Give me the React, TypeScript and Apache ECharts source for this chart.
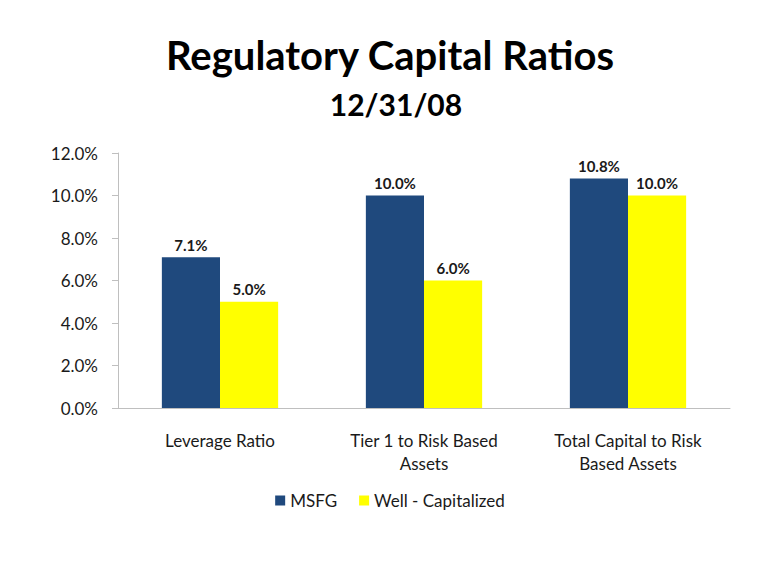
import React, { useEffect, useRef } from "react";
import * as echarts from "echarts";

const categories = ["Leverage Ratio", "Tier 1 to Risk Based\nAssets", "Total Capital to Risk\nBased Assets"];
const msfg = [7.1, 10.0, 10.8];
const wellCapitalized = [5.0, 6.0, 10.0];
const yTicks = { min: 0, max: 12, interval: 2 };

const FONT = "Lato, 'Noto Sans', sans-serif";

export default function App() {
  const ref = useRef<HTMLDivElement>(null);
  useEffect(() => {
    if (!ref.current) return;
    const chart = echarts.init(ref.current, null, { renderer: "svg" });
    const label = {
      show: true,
      position: "top",
      distance: 5,
      fontFamily: FONT,
      fontWeight: "bold",
      fontSize: 15,
      color: "#1a1a1a",
      formatter: (p: any) => p.value.toFixed(1) + "%",
    };
    chart.setOption({
      animation: false,
      backgroundColor: "#ffffff",
      title: [
        {
          text: "Regulatory Capital Ratios",
          left: "center",
          top: 30,
          textStyle: { fontFamily: FONT, fontWeight: "bold", fontSize: 40, color: "#000" },
        },
        {
          text: "12/31/08",
          left: 391,
          textAlign: "center",
          top: 84,
          textStyle: { fontFamily: FONT, fontWeight: "bold", fontSize: 30, color: "#000" },
        },
      ],
      legend: {
        bottom: 71,
        left: "center",
        itemWidth: 10,
        itemHeight: 10,
        itemGap: 22,
        icon: "rect",
        textStyle: { fontFamily: FONT, fontSize: 17, color: "#1a1a1a" },
        data: ["MSFG", "Well - Capitalized"],
      },
      grid: { left: 118, right: 50, top: 153, bottom: 177 },
      xAxis: {
        type: "category",
        data: categories,
        axisLine: { show: true, lineStyle: { color: "#BFBFBF" } },
        axisTick: { show: false },
        axisLabel: {
          margin: 21,
          fontFamily: FONT,
          fontSize: 17,
          lineHeight: 23,
          color: "#1a1a1a",
          interval: 0,
        },
      },
      yAxis: {
        type: "value",
        min: yTicks.min,
        max: yTicks.max,
        interval: yTicks.interval,
        axisLine: { show: true, lineStyle: { color: "#BFBFBF" } },
        axisTick: { show: true, length: 6, lineStyle: { color: "#BFBFBF" } },
        splitLine: { show: false },
        axisLabel: {
          margin: 20,
          fontFamily: FONT,
          fontSize: 17,
          color: "#1a1a1a",
          formatter: (v: number) => v.toFixed(1) + "%",
        },
      },
      series: [
        {
          name: "MSFG",
          type: "bar",
          data: msfg,
          barGap: "0%",
          barCategoryGap: "43%",
          itemStyle: { color: "#1F497D" },
          label,
        },
        {
          name: "Well - Capitalized",
          type: "bar",
          data: wellCapitalized,
          itemStyle: { color: "#FFFF00" },
          label,
        },
      ],
    });
    return () => chart.dispose();
  }, []);
  return (
    <div
      ref={ref}
      style={{ position: "fixed", left: 0, top: 0, width: 780, height: 585 }}
    />
  );
}
